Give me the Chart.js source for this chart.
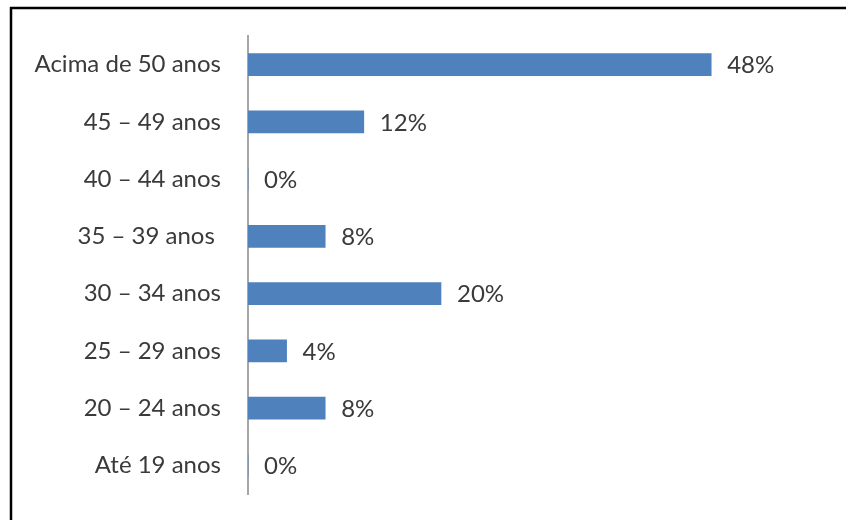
<!DOCTYPE html>
<html>
<head>
<meta charset="utf-8">
<script src="https://cdn.jsdelivr.net/npm/chart.js@4"></script>
<style>
  html, body { margin: 0; padding: 0; background: #fff; }
  #wrap { width: 846px; height: 520px; }
</style>
</head>
<body>
<div id="wrap"><canvas id="myChart"></canvas></div>
<script>
const faixas = ['Acima de 50 anos', '45 – 49 anos', '40 – 44 anos', '35 – 39 anos ', '30 – 34 anos', '25 – 29 anos', '20 – 24 anos', 'Até 19 anos'];
const percentuais = [48, 12, 0, 8, 20, 4, 8, 0];

const FONTE = { family: 'Lato, "Open Sans", sans-serif', size: 24 };
const COR_TEXTO = '#3a3a3a';

// moldura preta (só topo e esquerda aparecem)
const moldura = {
    id: 'moldura',
    afterDraw(chart) {
        const ctx = chart.ctx;
        ctx.save();
        ctx.strokeStyle = '#000';
        ctx.lineWidth = 2.5;
        ctx.beginPath();
        ctx.moveTo(11, 520);
        ctx.lineTo(11, 8);
        ctx.lineTo(846, 8);
        ctx.stroke();
        ctx.restore();
    }
};

// rótulos de porcentagem à direita das barras
const rotulos = {
    id: 'rotulos',
    afterDatasetsDraw(chart) {
        const ctx = chart.ctx;
        const meta = chart.getDatasetMeta(0);
        ctx.save();
        ctx.font = FONTE.size + 'px ' + FONTE.family;
        ctx.fillStyle = COR_TEXTO;
        ctx.textBaseline = 'middle';
        ctx.textAlign = 'left';
        meta.data.forEach(function (bar, i) {
            ctx.fillText(percentuais[i] + '%', bar.x + 16, bar.y + 1);
        });
        ctx.restore();
    }
};

const CHART = document.getElementById('myChart');
const myChart = new Chart(CHART, {
    type: 'bar',
    data: {
        labels: faixas,
        datasets: [{
            data: percentuais,
            backgroundColor: '#4f81bd',
            borderWidth: 0,
            barThickness: 22
        }]
    },
    options: {
        indexAxis: 'y',
        responsive: true,
        maintainAspectRatio: false,
        animation: false,
        layout: { padding: { left: 0, top: 36, right: 19, bottom: 26 } },
        plugins: {
            legend: { display: false },
            tooltip: { enabled: false }
        },
        scales: {
            x: {
                display: false,
                min: 0,
                max: 60
            },
            y: {
                afterFit: function (scale) {
                    scale.width = 248;
                    scale.paddingTop = 0;
                    scale.paddingBottom = 0;
                },
                grid: { display: false },
                border: { display: true, color: '#a6a6a6', width: 2 },
                ticks: {
                    color: COR_TEXTO,
                    font: FONTE,
                    padding: 19
                }
            }
        }
    },
    plugins: [moldura, rotulos]
});
</script>
</body>
</html>
